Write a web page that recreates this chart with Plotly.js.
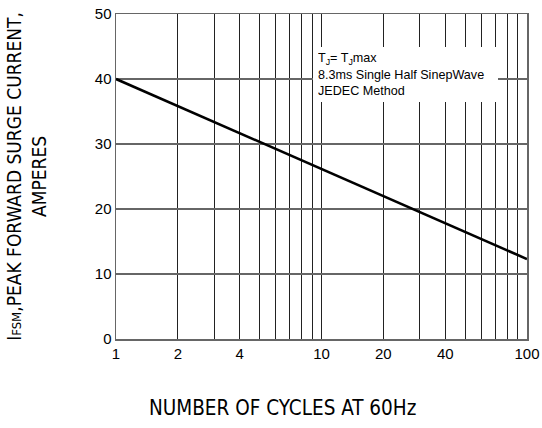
<!DOCTYPE html>
<html>
<head>
<meta charset="utf-8">
<script src="https://cdn.plot.ly/plotly-3.0.1.min.js"></script>
<style>html,body{margin:0;padding:0;background:#fff;}#chart{width:542px;height:428px;}</style>
</head>
<body>
<div id="chart"></div>
<script>
// Data
var cycles = [1, 10, 100];
var surgeCurrent = [40, 26.2, 12.3];
var xTickVals = [1, 2, 4, 10, 20, 40, 100];
var xTickText = ['1', '2', '4', '10', '20', '40', '100'];
var yTickVals = [0, 10, 20, 30, 40, 50];

var font = 'Arial, "Liberation Sans", sans-serif';
var narrow = '"Liberation Sans Narrow", "Arial Narrow", "DejaVu Sans Condensed", sans-serif';

var trace = {
  x: cycles,
  y: surgeCurrent,
  type: 'scatter',
  mode: 'lines',
  line: {color: '#000', width: 2.6},
  hoverinfo: 'skip',
  showlegend: false
};

var layout = {
  width: 542,
  height: 428,
  margin: {l: 116, r: 15, t: 14, b: 89},
  paper_bgcolor: '#fff',
  plot_bgcolor: '#fff',
  font: {family: font, color: '#000'},
  xaxis: {
    type: 'log',
    range: [0, 2],
    tickvals: xTickVals,
    ticktext: xTickText,
    ticks: '',
    tickfont: {size: 15, family: font, color: '#000'},
    showgrid: true,
    gridcolor: '#222',
    gridwidth: 1,
    minor: {dtick: 'D1', showgrid: true, gridcolor: '#222', gridwidth: 1, ticks: ''},
    showline: true,
    linecolor: '#666',
    linewidth: 1.5,
    mirror: true,
    zeroline: false,
    fixedrange: true
  },
  yaxis: {
    range: [0, 50],
    tickvals: yTickVals,
    ticks: '',
    tickfont: {size: 15, family: font, color: '#000'},
    showgrid: true,
    gridcolor: '#666',
    gridwidth: 1.2,
    showline: true,
    linecolor: '#666',
    linewidth: 1.5,
    mirror: true,
    zeroline: false,
    fixedrange: true,
    title: {
      text: 'I<span style="font-size:13px">FSM</span>,PEAK FORWARD SURGE CURRENT,<br>AMPERES',
      font: {size: 19, family: narrow, color: '#000'},
      standoff: 43
    }
  },
  annotations: [{
    xref: 'paper', yref: 'paper',
    x: 0.479, y: 0.898,
    xanchor: 'left', yanchor: 'top',
    width: 175, height: 45,
    align: 'left', valign: 'middle',
    bgcolor: '#fff',
    borderpad: 5,
    borderwidth: 0,
    showarrow: false,
    font: {size: 12.6, family: font, color: '#000'},
    text: 'T<sub>J</sub>= T<sub>J</sub>max<br>8.3ms Single Half SinepWave<br>JEDEC Method'
  }, {
    xref: 'paper', yref: 'paper',
    x: 0.406, y: -0.212,
    xanchor: 'center', yanchor: 'middle',
    showarrow: false,
    font: {size: 20.5, family: narrow, color: '#000'},
    text: 'NUMBER OF CYCLES AT 60Hz'
  }]
};

Plotly.newPlot('chart', [trace], layout, {displayModeBar: false, staticPlot: true});
</script>
</body>
</html>
